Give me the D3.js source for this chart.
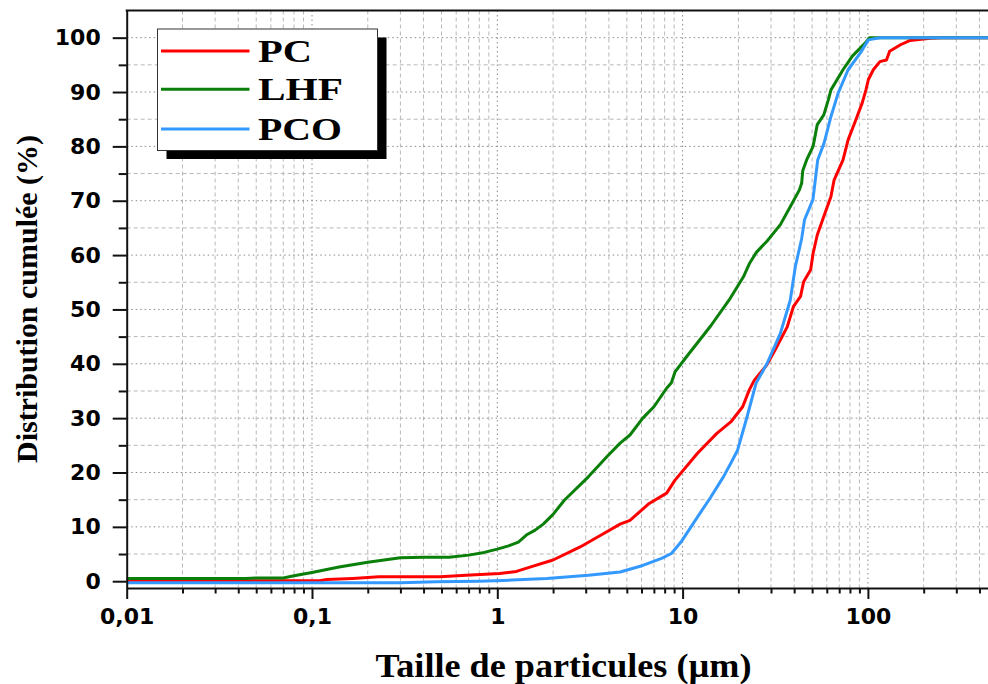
<!DOCTYPE html>
<html>
<head>
<meta charset="utf-8">
<script src="https://cdn.jsdelivr.net/npm/d3@7"></script>
<style>
  html, body { margin: 0; padding: 0; background: #fff; }
  svg { display: block; }
</style>
</head>
<body>
<svg id="chart" width="988" height="684"></svg>
<script>
// ---------- DATA ----------
const seriesNames = ["PC", "LHF", "PCO"];
const seriesColors = ["#ff0000", "#0a7f0a", "#3399ff"];

const xMajorTicks = [0.01, 0.1, 1, 10, 100];
const xTickLabels = ["0,01", "0,1", "1", "10", "100"];
const yMajorTicks = [0, 10, 20, 30, 40, 50, 60, 70, 80, 90, 100];
const yMinorTicks = [5, 15, 25, 35, 45, 55, 65, 75, 85, 95];

// [size (µm), cumulative %]
const pcData = [
  [0.01,0.1],[0.11,0.1],[0.12,0.3],[0.166,0.5],[0.23,0.8],[0.49,0.8],[0.68,1.1],[1.03,1.4],
  [1.27,1.8],[1.5,2.6],[2.0,3.9],[2.8,6.3],[3.9,9.1],[4.6,10.5],[5.2,11.2],[6.6,14.3],
  [8.2,16.2],[9.1,18.6],[12,23.5],[15.3,27.2],[18.2,29.3],[21.1,32.1],[22.9,35.2],[24.4,37],
  [28.5,39.8],[31.5,42.5],[36.7,46.8],[39.6,50.5],[43.3,52.4],[45,55.1],[49.1,57.3],[50.6,60.3],
  [53.3,63.7],[57.8,67.1],[63.2,70.8],[65.7,73.8],[73.4,77.5],[78.2,81.2],[84.8,84.3],[93.2,88],
  [97.6,90.4],[100.6,92.3],[107,94.1],[116,95.6],[126,95.9],[131,97.5],[150,98.7],[169,99.5],
  [217,99.9],[250,100],[500,100]
];
const lhfData = [
  [0.01,0.5],[0.044,0.5],[0.05,0.6],[0.07,0.6],[0.08,1.0],[0.1,1.6],[0.14,2.6],[0.2,3.5],
  [0.3,4.3],[0.4,4.4],[0.55,4.4],[0.7,4.8],[0.85,5.3],[1.0,5.9],[1.15,6.5],[1.3,7.2],
  [1.45,8.6],[1.6,9.4],[1.77,10.5],[2.0,12.3],[2.3,14.9],[3.1,19.2],[3.9,22.9],[4.6,25.4],[5.2,26.9],[6.1,30],
  [7.0,32.1],[8.2,35.5],[8.7,36.5],[9.1,38.5],[10.5,41.3],[14.2,47],[17.8,51.7],[21.3,56],
  [23,58.5],[25,60.5],[28.6,62.6],[33.7,65.6],[38.1,68.9],[42.7,72],[43.9,73.2],[44.5,75.5],
  [46.7,77.5],[50.6,80],[53.3,84],[57.8,85.8],[61.2,88.6],[63.2,90.4],[73.4,94.1],[82.4,96.6],
  [96.6,99],[102,100],[500,100]
];
const pcoData = [
  [0.01,-0.3],[0.3,-0.3],[0.47,-0.1],[0.8,0.0],[1.2,0.2],[1.85,0.5],[3.1,1.1],[4.6,1.7],
  [6.1,2.9],[7.7,4.2],[8.7,5.1],[9.8,7.2],[11.4,10.6],[14.2,15.5],[16.6,19.2],[18.2,21.7],
  [19.8,24.1],[22.3,30.3],[24.9,36.4],[28.6,40.1],[33.7,45.6],[38.1,51.7],[40.6,57.9],[43.9,63],
  [45.5,66.5],[50.5,70.2],[53.6,77.5],[58,80.6],[63.2,85.5],[69.1,89.8],[78.2,94.1],[91.1,97.2],
  [100.6,99.6],[116,100],[500,100]
];
const seriesData = [pcData, lhfData, pcoData];

// ---------- CHART ----------
const svg = d3.select("#chart");
const plotLeft = 126.7, plotTop = 10.5, plotBottom = 588;
const x = d3.scaleLog().domain([0.01, 1000]).range([plotLeft, plotLeft + 5 * 185.3]);
const y = d3.scaleLinear().domain([-1.25, 105]).range([plotBottom, plotTop]);

const xMinorTicks = [];
[0.01, 0.1, 1, 10, 100].forEach(d => { for (let k = 2; k <= 9; k++) xMinorTicks.push(d * k); });

// grid
const grid = svg.append("g");
xMinorTicks.forEach(v => grid.append("line")
  .attr("x1", x(v)).attr("x2", x(v)).attr("y1", plotTop).attr("y2", plotBottom)
  .attr("stroke", "#b8b8b8").attr("stroke-width", 1).attr("stroke-dasharray", "4,3"));
xMajorTicks.slice(1).forEach(v => grid.append("line")
  .attr("x1", x(v)).attr("x2", x(v)).attr("y1", plotTop).attr("y2", plotBottom)
  .attr("stroke", "#8a8a8a").attr("stroke-width", 1).attr("stroke-dasharray", "1.5,3"));
yMinorTicks.forEach(v => grid.append("line")
  .attr("x1", plotLeft).attr("x2", 988).attr("y1", y(v)).attr("y2", y(v))
  .attr("stroke", "#b8b8b8").attr("stroke-width", 1).attr("stroke-dasharray", "4,3"));
yMajorTicks.slice(1).forEach(v => grid.append("line")
  .attr("x1", plotLeft).attr("x2", 988).attr("y1", y(v)).attr("y2", y(v))
  .attr("stroke", "#8a8a8a").attr("stroke-width", 1).attr("stroke-dasharray", "1.5,3"));

// lines
const line = d3.line().x(d => x(d[0])).y(d => y(d[1]));
svg.append("defs").append("clipPath").attr("id", "clip")
  .append("rect").attr("x", plotLeft).attr("y", plotTop).attr("width", 988 - plotLeft).attr("height", plotBottom - plotTop);
const lines = svg.append("g").attr("clip-path", "url(#clip)");
seriesData.forEach((data, i) => {
  lines.append("path").datum(data)
    .attr("d", line).attr("fill", "none")
    .attr("stroke", seriesColors[i]).attr("stroke-width", 3)
    .attr("stroke-linejoin", "round");
});

// axes
const tickFont = "'DejaVu Sans', sans-serif";
svg.append("g").attr("transform", `translate(0,${plotBottom})`)
  .call(d3.axisBottom(x).tickValues(xMajorTicks).tickSize(11).tickSizeOuter(0).tickPadding(9)
    .tickFormat((d, i) => xTickLabels[i]));
svg.append("g").attr("transform", `translate(0,${plotBottom})`)
  .call(d3.axisBottom(x).tickValues(xMinorTicks).tickSize(5.5).tickSizeOuter(0).tickFormat(""))
  .call(g => g.select(".domain").remove());
svg.append("g").attr("transform", `translate(${plotLeft},0)`)
  .call(d3.axisLeft(y).tickValues(yMajorTicks).tickSize(14).tickSizeOuter(0).tickPadding(12));
svg.append("g").attr("transform", `translate(${plotLeft},0)`)
  .call(d3.axisLeft(y).tickValues(yMinorTicks).tickSize(8).tickSizeOuter(0).tickFormat(""))
  .call(g => g.select(".domain").remove());

svg.selectAll(".domain, .tick line").attr("stroke", "#111").attr("stroke-width", 2);
svg.selectAll(".tick text").attr("font-family", tickFont).attr("font-weight", "bold")
  .attr("font-size", 22).attr("fill", "#000");

// top frame
svg.append("line").attr("x1", plotLeft - 1).attr("x2", 988).attr("y1", plotTop).attr("y2", plotTop)
  .attr("stroke", "#111").attr("stroke-width", 2);

// titles
const serif = "'Liberation Serif', 'Times New Roman', serif";
svg.append("text")
  .attr("transform", "translate(37,299) rotate(-90)")
  .attr("text-anchor", "middle").attr("font-family", serif).attr("font-weight", "bold")
  .attr("font-size", 30).attr("textLength", 328).attr("lengthAdjust", "spacingAndGlyphs")
  .text("Distribution cumulée (%)");
svg.append("text")
  .attr("x", 563.5).attr("y", 677)
  .attr("text-anchor", "middle").attr("font-family", serif).attr("font-weight", "bold")
  .attr("font-size", 33).attr("textLength", 376).attr("lengthAdjust", "spacingAndGlyphs")
  .text("Taille de particules (µm)");

// legend
const lg = svg.append("g");
lg.append("rect").attr("x", 166.5).attr("y", 37.5).attr("width", 220).attr("height", 121.5).attr("fill", "#000");
lg.append("rect").attr("x", 157.5).attr("y", 29).attr("width", 220).attr("height", 121.5)
  .attr("fill", "#fff").attr("stroke", "#333").attr("stroke-width", 1);
const legY = [51, 89.3, 129];
const legText = [54, 85, 84];
seriesNames.forEach((name, i) => {
  lg.append("line").attr("x1", 161).attr("x2", 249.5).attr("y1", legY[i]).attr("y2", legY[i])
    .attr("stroke", seriesColors[i]).attr("stroke-width", 3);
  lg.append("text").attr("x", 258).attr("y", legY[i] + 10.8)
    .attr("font-family", serif).attr("font-weight", "bold").attr("font-size", 31)
    .attr("textLength", legText[i]).attr("lengthAdjust", "spacingAndGlyphs")
    .text(name);
});
</script>
</body>
</html>
